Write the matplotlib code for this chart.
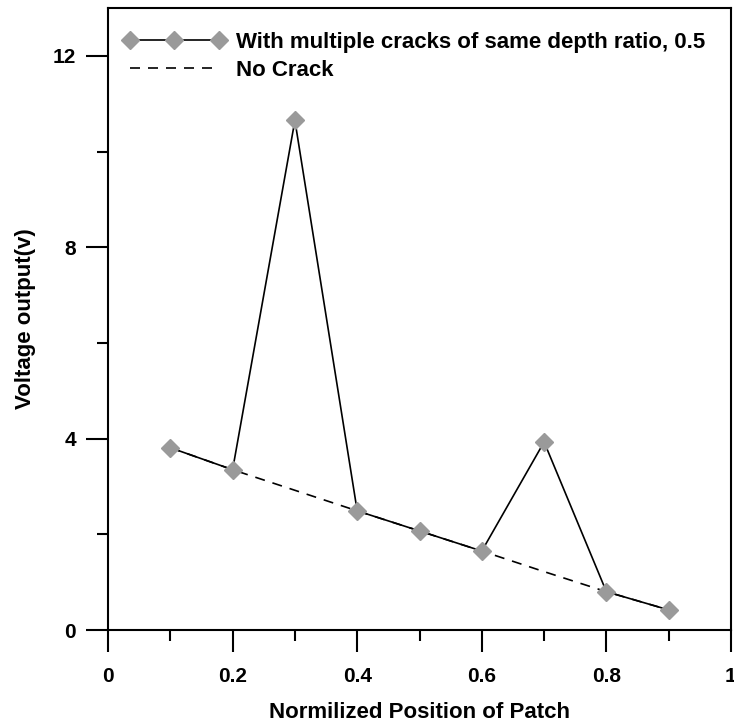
import matplotlib
matplotlib.use("Agg")
import matplotlib.pyplot as plt
from matplotlib.ticker import MultipleLocator

# patch positions and voltage readings
position = [0.1, 0.2, 0.3, 0.4, 0.5, 0.6, 0.7, 0.8, 0.9]
v_cracked = [3.81, 3.35, 10.65, 2.49, 2.07, 1.65, 3.93, 0.80, 0.42]
v_no_crack = [3.81, 3.35, 2.92, 2.49, 2.07, 1.65, 1.22, 0.80, 0.42]

x_ticks = [0, 0.2, 0.4, 0.6, 0.8, 1.0]
x_tick_labels = ["0", "0.2", "0.4", "0.6", "0.8", "1"]

label_cracked = "With multiple cracks of same depth ratio, 0.5"
label_no_crack = "No Crack"

plt.rcParams["font.family"] = ["Liberation Sans", "DejaVu Sans"]
plt.rcParams["font.weight"] = "bold"

fig = plt.figure(figsize=(7.34, 7.24), dpi=100)
ax = fig.add_axes([108 / 734, 94 / 724, 623 / 734, 622 / 724])

ax.plot(position, v_no_crack, color="black", linestyle=(0, (6, 4.8)), lw=1.2,
        label=label_no_crack, zorder=2)
ax.plot(position, v_cracked, color="black", lw=1.2, marker="D", markersize=9.5,
        markerfacecolor="#9a9a9a", markeredgecolor="#9a9a9a",
        label=label_cracked, zorder=3)

ax.set_xlim(0, 1)
ax.set_ylim(0, 13)
ax.set_xticks(x_ticks)
ax.set_xticklabels(x_tick_labels)
ax.xaxis.set_minor_locator(MultipleLocator(0.1))
ax.yaxis.set_major_locator(MultipleLocator(4))
ax.yaxis.set_minor_locator(MultipleLocator(2))

for s in ax.spines.values():
    s.set_linewidth(1.5)
ax.tick_params(which="major", direction="out", length=16, width=1.5,
               labelsize=15)
ax.tick_params(which="minor", direction="out", length=8, width=1.5)
ax.tick_params(axis="x", which="major", pad=11)
ax.tick_params(axis="y", which="major", pad=7)

ax.set_xlabel("Normilized Position of Patch", fontsize=16, fontweight="bold",
              labelpad=11)
ax.set_ylabel("Voltage output(v)", fontsize=16, fontweight="bold",
              labelpad=12)

handles, labels = ax.get_legend_handles_labels()
ax.legend(handles[::-1], labels[::-1], loc="upper left",
          bbox_to_anchor=(-0.011, 0.997), frameon=False,
          numpoints=3, handlelength=4.6,
          prop={"weight": "bold", "size": 16}, borderaxespad=0.6,
          handletextpad=0.45, labelspacing=0.3)

fig.savefig("out.png", dpi=100)
